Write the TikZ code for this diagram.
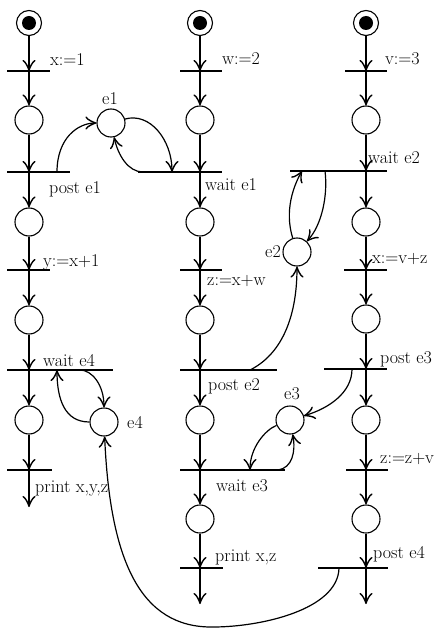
\documentclass[tikz,border=0pt]{standalone}
\usetikzlibrary{arrows.meta}
\begin{document}
\begin{tikzpicture}[x=1pt,y=-1pt,
  place/.style={circle,draw,line width=1.1pt,minimum size=28pt,inner sep=0pt},
  startplace/.style={circle,draw,line width=1.1pt,minimum size=25pt,inner sep=0pt},
  tok/.style={circle,fill,minimum size=14pt,inner sep=0pt},
  barline/.style={line width=1.2pt},
  arr/.style={line width=1.2pt,-{Classical TikZ Rightarrow[length=11pt,width=13pt,line width=1.4pt]}},
  lbl/.style={anchor=base west,inner sep=0pt,font=\fontsize{18}{21}\selectfont},
  elbl/.style={anchor=base,inner sep=0pt,font=\fontsize{18}{21}\selectfont},
  ]
\useasboundingbox (0,0) rectangle (437,628);

% ---------- column 1 ----------
\node[startplace] (s1) at (29,23) {};
\node[tok] (k1) at (29,23) {};
\coordinate (t11) at (29,71);
\node[place] (p11) at (29,120) {};
\coordinate (t12) at (29,172);
\node[place] (p12) at (29,222) {};
\coordinate (t13) at (29,270);
\node[place] (p13) at (29,320) {};
\coordinate (t14) at (29,370);
\node[place] (p14) at (29,420) {};
\coordinate (t15) at (29,470);
\coordinate (end1) at (29,507);

\draw[barline] (7,71) -- (50,71);
\draw[barline] (7,172) -- (70,172);
\draw[barline] (7,270) -- (50,270);
\draw[barline] (7,370) -- (113,370);
\draw[barline] (7,470) -- (52,470);

\draw[arr] (s1) -- (t11);
\draw[arr] (t11) -- (p11);
\draw[arr] (p11) -- (t12);
\draw[arr] (t12) -- (p12);
\draw[arr] (p12) -- (t13);
\draw[arr] (t13) -- (p13);
\draw[arr] (p13) -- (t14);
\draw[arr] (t14) -- (p14);
\draw[arr] (p14) -- (t15);
\draw[arr] (t15) -- (end1);

\node[lbl] (l11) at (50,66) {x:=1};
\node[lbl] (l12) at (49,194) {post e1};
\node[lbl] (l13) at (43,266) {y:=x+1};
\node[lbl] (l14) at (43,366) {wait e4};
\node[lbl] (l15) at (35,492) {print x,y,z};

% ---------- column 2 ----------
\node[startplace] (s2) at (200,23) {};
\node[tok] (k2) at (200,23) {};
\coordinate (t21) at (200,71);
\node[place] (p21) at (200,120) {};
\coordinate (t22) at (200,172);
\node[place] (p22) at (200,222) {};
\coordinate (t23) at (200,270);
\node[place] (p23) at (200,320) {};
\coordinate (t24) at (200,370);
\node[place] (p24) at (200,420) {};
\coordinate (t25) at (200,470);
\node[place] (p25) at (200,519) {};
\coordinate (t26) at (200,568);
\coordinate (end2) at (200,604);

\draw[barline] (180,71) -- (222,71);
\draw[barline] (138,172) -- (222,172);
\draw[barline] (180,270) -- (222,270);
\draw[barline] (180,370) -- (277,370);
\draw[barline] (180,470) -- (285,470);
\draw[barline] (180,568) -- (223,568);

\draw[arr] (s2) -- (t21);
\draw[arr] (t21) -- (p21);
\draw[arr] (p21) -- (t22);
\draw[arr] (t22) -- (p22);
\draw[arr] (p22) -- (t23);
\draw[arr] (t23) -- (p23);
\draw[arr] (p23) -- (t24);
\draw[arr] (t24) -- (p24);
\draw[arr] (p24) -- (t25);
\draw[arr] (t25) -- (p25);
\draw[arr] (p25) -- (t26);
\draw[arr] (t26) -- (end2);

\node[lbl] (l21) at (222,65) {w:=2};
\node[lbl] (l22) at (205,191) {wait e1};
\node[lbl] (l23) at (207,285) {z:=x+w};
\node[lbl] (l24) at (208,390) {post e2};
\node[lbl] (l25) at (216,491) {wait e3};
\node[lbl] (l26) at (215,561) {print x,z};

% ---------- column 3 ----------
\node[startplace] (s3) at (366,23) {};
\node[tok] (k3) at (366,23) {};
\coordinate (t31) at (366,71);
\node[place] (p31) at (366,120) {};
\coordinate (t32) at (366,171);
\node[place] (p32) at (366,222) {};
\coordinate (t33) at (366,270);
\node[place] (p33) at (366,319) {};
\coordinate (t34) at (366,369);
\node[place] (p34) at (366,420) {};
\coordinate (t35) at (366,470);
\node[place] (p35) at (366,519) {};
\coordinate (t36) at (366,568);
\coordinate (end3) at (366,604);

\draw[barline] (345,71) -- (387,71);
\draw[barline] (290,171) -- (387,171);
\draw[barline] (344,270) -- (387,270);
\draw[barline] (324,369) -- (387,369);
\draw[barline] (346,470) -- (388,470);
\draw[barline] (318,568) -- (388,568);

\draw[arr] (s3) -- (t31);
\draw[arr] (t31) -- (p31);
\draw[arr] (p31) -- (t32);
\draw[arr] (t32) -- (p32);
\draw[arr] (p32) -- (t33);
\draw[arr] (t33) -- (p33);
\draw[arr] (p33) -- (t34);
\draw[arr] (t34) -- (p34);
\draw[arr] (p34) -- (t35);
\draw[arr] (t35) -- (p35);
\draw[arr] (p35) -- (t36);
\draw[arr] (t36) -- (end3);

\node[lbl] (l31) at (385,65) {v:=3};
\node[lbl] (l32) at (368,164) {wait e2};
\node[lbl] (l33) at (372,263) {x:=v+z};
\node[lbl] (l34) at (380,363) {post e3};
\node[lbl] (l35) at (380,463) {z:=z+v};
\node[lbl] (l36) at (373,558) {post e4};

% ---------- event places ----------
\node[place] (e1) at (111,123) {};
\node[elbl] (le1) at (110,105) {e1};
\node[place] (e2) at (297,252) {};
\node[lbl,anchor=base east] (le2) at (281,257) {e2};
\node[place] (e3) at (290,420) {};
\node[elbl] (le3) at (292,399) {e3};
\node[place] (e4) at (104,422) {};
\node[lbl] (le4) at (127,428) {e4};

% anchor points on bars
\coordinate (a1) at (57,172);
\coordinate (a2) at (172,172);
\coordinate (a3) at (143,172);
\coordinate (a4) at (302,171);
\coordinate (a5) at (325,171);
\coordinate (a6) at (250,370);
\coordinate (a7) at (352,369);
\coordinate (a8) at (250,470);
\coordinate (a9) at (278,470);
\coordinate (a10) at (80,370);
\coordinate (a11) at (57,370);
\coordinate (a12) at (339,568);
\coordinate (bot) at (213,627);

% ---------- arcs ----------
\draw[arr] (a1) .. controls (57,138) and (78,123) .. (e1);
\draw[arr] (e1) .. controls (150,112) and (172,140) .. (a2);
\draw[arr] (a3) .. controls (128,172) and (118,155) .. (e1);

\draw[arr] (e2) .. controls (284,210) and (294,185) .. (a4);
\draw[arr] (a5) .. controls (328,195) and (322,225) .. (e2);
\draw[arr] (a6) .. controls (280,355) and (297,320) .. (e2);

\draw[arr] (a7) .. controls (352,392) and (330,408) .. (e3);
\draw[arr] (e3) .. controls (265,430) and (250,448) .. (a8);
\draw[arr] (a9) .. controls (292,468) and (296,452) .. (e3);

\draw[arr] (a10) .. controls (92,370) and (104,385) .. (e4);
\draw[arr] (e4) .. controls (65,422) and (57,400) .. (a11);

\draw[arr] (a12) .. controls (338,610) and (260,627) .. (bot)
               .. controls (140,628) and (110,560) .. (e4);
\end{tikzpicture}
\end{document}
